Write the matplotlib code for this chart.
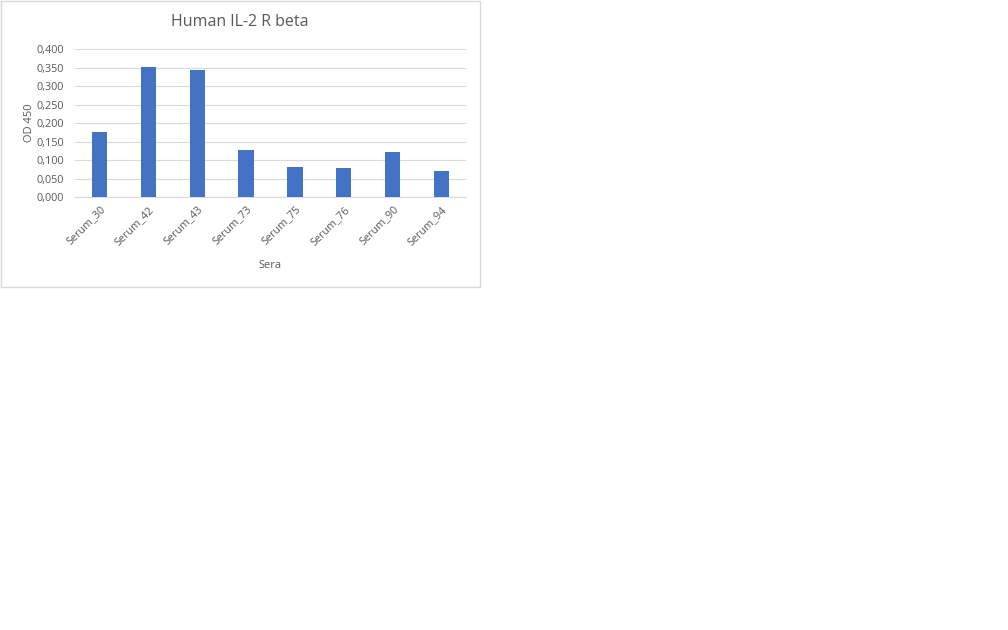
import matplotlib
matplotlib.use("Agg")
import matplotlib.pyplot as plt
from matplotlib.patches import Rectangle
from matplotlib.ticker import FuncFormatter

categories = ["Serum_30", "Serum_42", "Serum_43", "Serum_73", "Serum_75", "Serum_76", "Serum_90", "Serum_94"]
values = [0.176, 0.352, 0.345, 0.127, 0.081, 0.079, 0.122, 0.070]
yticks = [0.0, 0.05, 0.1, 0.15, 0.2, 0.25, 0.3, 0.35, 0.4]

plt.rcParams['font.family'] = ['Open Sans', 'DejaVu Sans']
W, H = 1008, 630
fig = plt.figure(figsize=(W/100, H/100), dpi=100)

# chart border
fig.patches.append(Rectangle((0.5/W, 1 - 287.5/H), 479/W, 287/H, transform=fig.transFigure,
                             fill=False, edgecolor='#d9d9d9', linewidth=1))

left, right, top, bottom = 75, 466, 49.3, 197
ax = fig.add_axes([left/W, 1 - bottom/H, (right-left)/W, (bottom-top)/H])
x = range(len(categories))
ax.bar(x, values, width=0.31, color='#4472C4', zorder=3)
ax.set_xlim(-0.5, len(categories) - 0.5)
ax.set_ylim(0, 0.4)
ax.set_yticks(yticks)
ax.yaxis.set_major_formatter(FuncFormatter(lambda v, p: f"{v:.3f}".replace('.', ',')))
ax.grid(axis='y', color='#d9d9d9', linewidth=0.8, zorder=0)
for s in ['top', 'right', 'left']:
    ax.spines[s].set_visible(False)
ax.spines['bottom'].set_color('#d9d9d9')
ax.tick_params(axis='both', length=0, labelsize=7.8, colors='#595959')
ax.tick_params(axis='y', pad=8)
ax.tick_params(axis='x', pad=5)
ax.set_xticks(list(x))
ax.set_xticklabels(categories, rotation=45, ha='right', va='top', rotation_mode='anchor')
ax.set_ylabel("OD 450", fontsize=8, color='#595959', va='center')
ax.yaxis.set_label_coords((29 - left) / (right - left), 0.5)
ax.set_xlabel("Sera", fontsize=8, color='#595959', labelpad=9)
fig.text(240/W, 1 - 22/H, "Human IL-2 R beta", ha='center', va='center', fontsize=11.5, color='#595959')

fig.savefig("out.png", dpi=100, facecolor='white')
